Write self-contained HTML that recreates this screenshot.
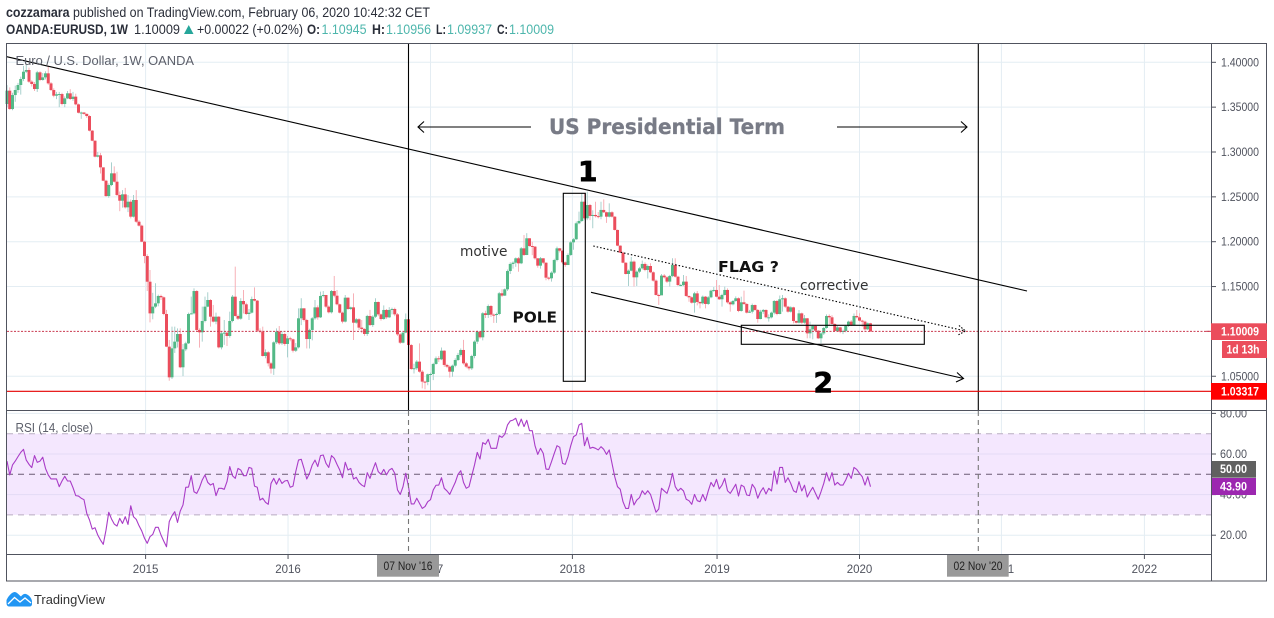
<!DOCTYPE html>
<html lang="en">
<head>
<meta charset="utf-8">
<title>EURUSD weekly chart</title>
<style>
html,body{margin:0;padding:0;background:#fff;width:1274px;height:618px;overflow:hidden}
svg{display:block}
text{font-family:"Liberation Sans",sans-serif}
.dv{font-family:"DejaVu Sans","Liberation Sans",sans-serif}
</style>
</head>
<body>
<svg id="chart" xmlns="http://www.w3.org/2000/svg" width="1274" height="618" viewBox="0 0 1274 618">
  <defs>
    <clipPath id="rsi-axis-clip"><rect x="1212" y="411" width="55" height="143"/></clipPath>
    <clipPath id="time-axis-clip"><rect x="7" y="555" width="1204" height="26"/></clipPath>
  </defs>
  <rect x="0" y="0" width="1274" height="618" fill="#ffffff"/>

  <g id="header" font-size="13.500" fill="#2a2e39">
    <text x="6" y="17" textLength="424" lengthAdjust="spacingAndGlyphs"><tspan font-weight="bold">cozzamara</tspan> published on TradingView.com, February 06, 2020 10:42:32 CET</text>
    <text x="6" y="34" font-weight="bold" textLength="122" lengthAdjust="spacingAndGlyphs">OANDA:EURUSD, 1W</text>
    <text x="134" y="34" textLength="46" lengthAdjust="spacingAndGlyphs">1.10009</text>
    <polygon points="184,34 193.500,34 188.750,25" fill="#26a69a"/>
    <text x="197" y="34" textLength="106" lengthAdjust="spacingAndGlyphs">+0.00022 (+0.02%)</text>
    <text x="307" y="34" font-weight="bold" textLength="13" lengthAdjust="spacingAndGlyphs">O:</text>
    <text x="321.500" y="34" fill="#4db6ac" textLength="45" lengthAdjust="spacingAndGlyphs">1.10945</text>
    <text x="372" y="34" font-weight="bold" textLength="13" lengthAdjust="spacingAndGlyphs">H:</text>
    <text x="386" y="34" fill="#4db6ac" textLength="45" lengthAdjust="spacingAndGlyphs">1.10956</text>
    <text x="436" y="34" font-weight="bold" textLength="10" lengthAdjust="spacingAndGlyphs">L:</text>
    <text x="447" y="34" fill="#4db6ac" textLength="45" lengthAdjust="spacingAndGlyphs">1.09937</text>
    <text x="497" y="34" font-weight="bold" textLength="11" lengthAdjust="spacingAndGlyphs">C:</text>
    <text x="509" y="34" fill="#4db6ac" textLength="45" lengthAdjust="spacingAndGlyphs">1.10009</text>
  </g>

  <g id="grid"></g>
  <g id="rsi-band"></g>
  <g id="candles"></g>
  <g id="rsi-series"></g>

  <g id="drawings" fill="none" stroke="#000" stroke-width="1.100">
    <line x1="408.500" y1="43" x2="408.500" y2="410" stroke-width="1.100"/>
    <line x1="978.300" y1="43" x2="978.300" y2="410" stroke-width="1.100"/>
    <line x1="408.500" y1="411" x2="408.500" y2="555" stroke="#777" stroke-dasharray="5 4"/>
    <line x1="978.300" y1="411" x2="978.300" y2="555" stroke="#777" stroke-dasharray="5 4"/>
    <line x1="7" y1="391.300" x2="1211" y2="391.300" stroke="#e40000"/>
    <line x1="6.700" y1="56.700" x2="1027" y2="291"/>
    <line x1="591" y1="292.300" x2="963.500" y2="378.500"/>
    <polyline points="957,372.500 963.500,378.500 956,382"/>
    <line x1="593.300" y1="246" x2="965.500" y2="331" stroke-dasharray="1.500 2"/>
    <polyline points="959,325.500 965.500,331 958,335" stroke-dasharray="1.500 1.500"/>
    <rect x="563.300" y="193.300" width="22" height="188"/>
    <rect x="741.300" y="325.300" width="183" height="19"/>
    <line x1="418" y1="127" x2="531" y2="127"/>
    <polyline points="424,121.500 418,127 424,132.500"/>
    <line x1="837" y1="127" x2="967" y2="127"/>
    <polyline points="961,121.500 967,127 961,132.500"/>
  </g>

  <g id="annotations">
    <text class="dv" x="549" y="134" font-size="21" font-weight="bold" fill="#787b86" stroke="#787b86" stroke-width="0.300" textLength="236" lengthAdjust="spacingAndGlyphs">US Presidential Term</text>
    <text class="dv" x="578" y="181" font-size="28" font-weight="bold" fill="#000" stroke="#000" stroke-width="0.800">1</text>
    <text class="dv" x="813.500" y="392" font-size="28" font-weight="bold" fill="#000" stroke="#000" stroke-width="0.800">2</text>
    <text class="dv" x="460" y="256" font-size="14" fill="#333" textLength="47.500" lengthAdjust="spacingAndGlyphs">motive</text>
    <text class="dv" x="512.500" y="322.700" font-size="15" font-weight="bold" fill="#111" textLength="44.500" lengthAdjust="spacingAndGlyphs">POLE</text>
    <text class="dv" x="718" y="272" font-size="15" font-weight="bold" fill="#111" textLength="61" lengthAdjust="spacingAndGlyphs">FLAG ?</text>
    <text class="dv" x="800" y="290" font-size="14" fill="#333" textLength="68.500" lengthAdjust="spacingAndGlyphs">corrective</text>
    <text x="15.500" y="65" font-size="13" fill="#5d606b" textLength="178.500" lengthAdjust="spacingAndGlyphs">Euro / U.S. Dollar, 1W, OANDA</text>
    <text x="15.500" y="432" font-size="12.500" fill="#5d606b" textLength="77.500" lengthAdjust="spacingAndGlyphs">RSI (14, close)</text>
  </g>

  <g id="price-axis"></g>
  <g id="rsi-axis" clip-path="url(#rsi-axis-clip)"></g>
  <g id="time-axis" clip-path="url(#time-axis-clip)"></g>

  <g id="frame" stroke="#50535e" stroke-width="1" fill="none">
    <rect x="6.500" y="43.500" width="1260" height="537.500"/>
    <line x1="1211.500" y1="43" x2="1211.500" y2="581"/>
    <line x1="6" y1="410.500" x2="1267" y2="410.500"/>
    <line x1="6" y1="554.500" x2="1211" y2="554.500"/>
  </g>

  <g id="time-badges">
    <rect x="377" y="555" width="62" height="21.700" fill="#999999"/>
    <text x="383.500" y="570" font-size="11.500" fill="#222" textLength="49" lengthAdjust="spacingAndGlyphs">07 Nov '16</text>
    <rect x="947" y="555" width="61.700" height="21.700" fill="#999999"/>
    <text x="953.500" y="570" font-size="11.500" fill="#222" textLength="49" lengthAdjust="spacingAndGlyphs">02 Nov '20</text>
  </g>

  <g id="value-badges" font-size="11.500" font-weight="bold" fill="#fff">
    <rect x="1211" y="323.300" width="56" height="16.700" fill="#eb4d5c"/>
    <text x="1221" y="335.500" textLength="38" lengthAdjust="spacingAndGlyphs">1.10009</text>
    <rect x="1222" y="341" width="45" height="17" fill="#eb4d5c"/>
    <text x="1226.500" y="353.500" textLength="33" lengthAdjust="spacingAndGlyphs">1d 13h</text>
    <rect x="1211" y="383" width="56" height="16.700" fill="#ff0000"/>
    <text x="1221" y="395.500" textLength="38" lengthAdjust="spacingAndGlyphs">1.03317</text>
    <rect x="1212" y="461" width="44" height="16.700" fill="#606060"/>
    <text x="1220" y="473" textLength="27" lengthAdjust="spacingAndGlyphs">50.00</text>
    <rect x="1212" y="478" width="44" height="17" fill="#9c27b0"/>
    <text x="1220" y="490.500" textLength="27" lengthAdjust="spacingAndGlyphs">43.90</text>
  </g>

  <g id="logo">
    <path d="M6.500 603 L6.500 600 C8 597 11 592.500 14.500 592 C17 592 19 595 21 596.500 C22.500 594.500 24 593.500 26 594 C29 595 31.500 598 32 601 L32 604 C32 605.500 31 606.500 29.500 606.500 L9 606.500 C7.500 606.500 6.500 605 6.500 603 Z" fill="#2196f3"/>
    <path d="M8 604 L14.500 597.500 L20 602 L25 598 L31 603" fill="none" stroke="#fff" stroke-width="1.300"/>
    <text x="34" y="604" font-size="13" fill="#333" textLength="71" lengthAdjust="spacingAndGlyphs">TradingView</text>
  </g>
</svg>

<script>
var firstOpen = 1.3535;
var closes = [
1.3684,1.3479,1.3635,1.3691,1.3747,1.3814,1.3895,1.3914,1.3784,1.3758,
1.3702,1.3888,1.3803,1.3832,1.3877,1.3765,1.3691,1.3628,1.3643,1.3646,
1.3535,1.3598,1.3654,1.3591,1.3617,1.3531,1.3438,1.3440,1.3425,1.3401,
1.3238,1.3126,1.2948,1.2963,1.2829,1.2680,1.2509,1.2632,1.2762,1.2669,
1.2521,1.2457,1.2528,1.2383,1.2446,1.2279,1.2465,1.2223,1.2179,1.2000,
1.1840,1.1554,1.1201,1.1276,1.1313,1.1395,1.1380,1.1194,1.0830,1.0488,
1.0811,1.0886,1.0971,1.0600,1.0800,1.0867,1.1194,1.1201,1.1450,1.1016,
1.0990,1.1116,1.1276,1.1350,1.1164,1.1109,1.1164,1.0822,1.0978,1.0986,
1.0949,1.1116,1.1387,1.1172,1.1142,1.1339,1.1302,1.1194,1.1209,1.1361,
1.1343,1.1008,1.0997,1.0726,1.0767,1.0644,1.0585,1.0878,1.0997,1.0867,
1.0971,1.0860,1.0923,1.0912,1.0785,1.0822,1.1146,1.1257,1.1127,1.0915,
1.1016,1.1146,1.1268,1.1157,1.1395,1.1406,1.1276,1.1213,1.1450,1.1398,
1.1302,1.1209,1.1109,1.1376,1.1250,1.1268,1.1097,1.1135,1.1042,1.1027,
1.0971,1.1172,1.1071,1.1164,1.1328,1.1190,1.1138,1.1239,1.1157,1.1239,
1.1250,1.1190,1.0967,1.0874,1.0986,1.1135,1.0848,1.0581,1.0589,1.0663,
1.0551,1.0440,1.0436,1.0522,1.0525,1.0637,1.0700,1.0689,1.0785,1.0626,
1.0607,1.0551,1.0618,1.0681,1.0737,1.0793,1.0644,1.0607,1.0588,1.0726,
1.0886,1.0997,1.0934,1.1202,1.1183,1.1283,1.1187,1.1183,1.1194,1.1425,
1.1399,1.1469,1.1673,1.1752,1.1766,1.1815,1.1759,1.1926,1.1852,1.2038,
1.1952,1.1945,1.1815,1.1733,1.1815,1.1766,1.1599,1.1592,1.1655,1.1796,
1.1926,1.1900,1.1770,1.1740,1.1852,1.1993,1.2027,1.2205,1.2231,1.2446,
1.2261,1.2409,1.2287,1.2298,1.2285,1.2279,1.2354,1.2328,1.2279,1.2328,
1.2279,1.2131,1.1956,1.1878,1.1766,1.1640,1.1677,1.1778,1.1603,1.1666,
1.1703,1.1752,1.1685,1.1729,1.1659,1.1566,1.1406,1.1402,1.1622,1.1603,
1.1555,1.1618,1.1740,1.1610,1.1517,1.1517,1.1555,1.1395,1.1380,1.1320,
1.1424,1.1328,1.1313,1.1387,1.1306,1.1380,1.1454,1.1462,1.1387,1.1358,
1.1406,1.1462,1.1324,1.1302,1.1339,1.1369,1.1228,1.1324,1.1306,1.1209,
1.1220,1.1294,1.1239,1.1138,1.1220,1.1239,1.1157,1.1157,1.1209,1.1339,
1.1194,1.1358,1.1369,1.1276,1.1220,1.1268,1.1116,1.1097,1.1201,1.1097,
1.1146,1.0978,1.1023,1.1060,1.1008,1.0923,1.0978,1.1038,1.1172,1.1157,
1.1083,1.1005,1.1045,1.0997,1.1005,1.1060,1.1109,1.1071,1.1172,1.1157,
1.1120,1.1109,1.1023,1.1090,1.10009];
var highs = [
1.3745,1.3720,1.3660,1.3740,1.3770,1.3840,1.3960,1.3970,1.3940,1.3800,
1.3780,1.3905,1.3900,1.3880,1.3900,1.3960,1.3780,1.3710,1.3670,1.3670,
1.3660,1.3620,1.3680,1.3700,1.3670,1.3650,1.3540,1.3450,1.3445,1.3430,
1.3410,1.3245,1.3130,1.3000,1.2990,1.2760,1.2690,1.2650,1.2885,1.2840,
1.2780,1.2560,1.2575,1.2600,1.2520,1.2470,1.2520,1.2575,1.2240,1.2190,
1.2010,1.1860,1.1684,1.1430,1.1537,1.1410,1.1410,1.1390,1.1240,1.0905,
1.1053,1.1053,1.1034,1.1034,1.0860,1.0885,1.1210,1.1388,1.1480,1.1460,
1.1034,1.1276,1.1387,1.1436,1.1360,1.1295,1.1210,1.1170,1.1000,1.1127,
1.1000,1.1220,1.1406,1.1722,1.1190,1.1370,1.1462,1.1320,1.1250,1.1388,
1.1491,1.1350,1.1034,1.1053,1.0800,1.0780,1.0660,1.0890,1.1034,1.1060,
1.1000,1.0985,1.0950,1.0940,1.0920,1.0870,1.1257,1.1370,1.1260,1.1140,
1.1030,1.1160,1.1350,1.1290,1.1443,1.1450,1.1406,1.1290,1.1462,1.1618,
1.1462,1.1310,1.1220,1.1406,1.1380,1.1276,1.1424,1.1150,1.1146,1.1127,
1.1035,1.1185,1.1240,1.1180,1.1370,1.1333,1.1200,1.1290,1.1250,1.1270,
1.1265,1.1265,1.1205,1.0980,1.1000,1.1200,1.1306,1.0860,1.0640,1.0680,
1.0867,1.0570,1.0450,1.0530,1.0540,1.0650,1.0720,1.0725,1.0820,1.0790,
1.0640,1.0620,1.0630,1.0700,1.0760,1.0810,1.0905,1.0660,1.0620,1.0740,
1.0900,1.1010,1.1005,1.1215,1.1230,1.1300,1.1295,1.1200,1.1210,1.1440,
1.1470,1.1480,1.1690,1.1770,1.1780,1.1825,1.1830,1.1940,1.2075,1.2095,
1.2038,1.2000,1.1950,1.1815,1.1830,1.1815,1.1770,1.1610,1.1670,1.1810,
1.1945,1.1930,1.1905,1.1780,1.1870,1.2010,1.2040,1.2225,1.2335,1.2540,
1.2540,1.2558,1.2420,1.2350,1.2446,1.2330,1.2446,1.2472,1.2335,1.2428,
1.2340,1.2285,1.2135,1.1960,1.1890,1.1770,1.1690,1.1830,1.1790,1.1680,
1.1720,1.1790,1.1770,1.1745,1.1760,1.1670,1.1580,1.1420,1.1640,1.1640,
1.1615,1.1630,1.1815,1.1815,1.1620,1.1530,1.1629,1.1618,1.1400,1.1390,
1.1440,1.1450,1.1335,1.1400,1.1395,1.1395,1.1465,1.1495,1.1573,1.1517,
1.1420,1.1499,1.1480,1.1335,1.1350,1.1390,1.1380,1.1387,1.1454,1.1315,
1.1240,1.1310,1.1300,1.1250,1.1240,1.1250,1.1245,1.1190,1.1220,1.1350,
1.1350,1.1400,1.1406,1.1380,1.1285,1.1280,1.1275,1.1120,1.1239,1.1210,
1.1183,1.1150,1.1109,1.1075,1.1065,1.1015,1.0990,1.1050,1.1190,1.1190,
1.1180,1.1090,1.1060,1.1050,1.1020,1.1070,1.1120,1.1125,1.1200,1.1239,
1.1202,1.1130,1.1120,1.1100,1.10956];
var lows = [
1.3500,1.3470,1.3465,1.3560,1.3660,1.3640,1.3790,1.3880,1.3770,1.3730,
1.3680,1.3670,1.3790,1.3795,1.3810,1.3750,1.3680,1.3610,1.3590,1.3500,
1.3520,1.3500,1.3590,1.3580,1.3570,1.3520,1.3430,1.3370,1.3415,1.3380,
1.3230,1.3120,1.2940,1.2940,1.2760,1.2675,1.2500,1.2490,1.2620,1.2660,
1.2510,1.2340,1.2380,1.2370,1.2330,1.2260,1.2270,1.2210,1.2170,1.1995,
1.1760,1.1450,1.1100,1.1135,1.1260,1.1280,1.1350,1.1180,1.0825,1.0450,
1.0470,1.0760,1.0820,1.0590,1.0502,1.0780,1.0860,1.1190,1.1190,1.1000,
1.0819,1.0886,1.1100,1.1270,1.1053,1.1100,1.1080,1.0810,1.0800,1.0850,
1.0837,1.0930,1.1100,1.1165,1.1127,1.1130,1.1200,1.1183,1.1127,1.1200,
1.1335,1.0997,1.0980,1.0720,1.0700,1.0610,1.0530,1.0515,1.0860,1.0850,
1.0850,1.0840,1.0710,1.0890,1.0765,1.0770,1.0810,1.1070,1.1110,1.0810,
1.0810,1.0900,1.1130,1.1130,1.1150,1.1380,1.1260,1.1200,1.1200,1.1380,
1.1290,1.1200,1.1090,1.1100,1.1240,1.1240,1.0904,1.1085,1.1015,1.0980,
1.0950,1.0950,1.1060,1.1050,1.1150,1.1170,1.1120,1.1130,1.1140,1.1150,
1.1190,1.1170,1.0950,1.0860,1.0866,1.0980,1.0830,1.0570,1.0530,1.0570,
1.0540,1.0365,1.0355,1.0400,1.0345,1.0457,1.0630,1.0660,1.0680,1.0605,
1.0590,1.0485,1.0495,1.0600,1.0670,1.0720,1.0630,1.0590,1.0565,1.0570,
1.0700,1.0860,1.0920,1.0900,1.1150,1.1150,1.1160,1.1095,1.1095,1.1180,
1.1385,1.1395,1.1450,1.1640,1.1700,1.1720,1.1665,1.1750,1.1840,1.1850,
1.1945,1.1850,1.1800,1.1710,1.1700,1.1750,1.1570,1.1570,1.1555,1.1640,
1.1780,1.1880,1.1750,1.1720,1.1740,1.1840,1.1910,1.2020,1.2195,1.2220,
1.2245,1.2240,1.2240,1.2150,1.2270,1.2260,1.2250,1.2320,1.2210,1.2270,
1.2270,1.2125,1.1950,1.1875,1.1760,1.1635,1.1506,1.1670,1.1500,1.1506,
1.1650,1.1690,1.1670,1.1590,1.1650,1.1555,1.1400,1.1295,1.1425,1.1590,
1.1540,1.1500,1.1605,1.1600,1.1505,1.1505,1.1505,1.1385,1.1330,1.1310,
1.1209,1.1290,1.1257,1.1300,1.1257,1.1295,1.1370,1.1440,1.1380,1.1350,
1.1276,1.1400,1.1310,1.1220,1.1290,1.1330,1.1215,1.1220,1.1295,1.1200,
1.1205,1.1200,1.1230,1.1097,1.1135,1.1195,1.1145,1.1109,1.1145,1.1190,
1.1180,1.1190,1.1220,1.1260,1.1209,1.1210,1.1090,1.1090,1.1090,1.1085,
1.1085,1.0923,1.0923,1.0912,1.0990,1.0915,1.0867,1.0960,1.1030,1.1070,
1.1075,1.0995,1.0995,1.0980,1.0970,1.0990,1.1050,1.1060,1.1065,1.1145,
1.1110,1.1050,1.1010,1.1015,1.09937];
var rsiValues = [
56.5,49.7,54.6,56.5,58.7,60.8,62.3,57.0,54.9,53.3,59.2,55.9,56.5,58.4,52.9,49.7,47.7,47.7,47.7,43.9,
46.7,49.0,46.7,46.7,43.4,39.5,39.3,38.2,37.5,30.8,27.5,23.0,23.7,20.1,17.6,15.5,22.5,31.3,28.0,25.5,
24.5,28.3,25.8,29.1,25.3,34.5,29.1,27.8,24.7,22.1,18.5,16.0,19.3,20.4,23.9,23.9,20.1,17.1,14.3,26.7,
29.6,31.6,26.3,31.9,34.9,43.6,43.7,49.3,41.4,40.6,43.4,47.2,49.7,46.0,44.7,45.5,39.5,43.1,43.1,42.6,
46.4,53.8,49.3,48.0,52.9,52.1,49.3,49.3,53.4,52.9,44.2,43.6,37.3,38.2,36.2,35.2,45.5,48.0,45.1,48.0,
45.5,46.7,47.0,43.6,44.2,51.3,57.0,57.4,52.9,47.7,50.5,54.6,57.0,53.8,59.2,
59.5,55.4,53.4,59.2,57.9,54.9,52.1,48.3,55.9,52.1,52.9,47.7,48.5,46.0,44.7,43.9,50.8,48.0,52.1,55.7,
51.3,50.0,52.4,49.7,52.1,52.9,50.5,42.3,40.1,43.9,50.5,43.9,35.4,35.4,38.2,35.7,33.2,34.1,36.5,37.5,
42.3,44.6,44.7,48.3,43.1,41.8,40.1,43.1,46.0,50.0,51.8,46.0,43.1,43.9,49.3,54.6,60.8,57.5,65.6,64.8,
67.2,62.8,62.8,62.8,69.0,68.2,69.7,74.3,76.3,76.7,77.6,73.8,77.2,73.5,76.6,71.5,71.5,64.1,59.8,62.8,
60.3,52.6,52.4,56.2,60.3,64.1,63.3,55.4,54.9,58.7,64.1,68.5,69.4,74.3,75.1,64.1,68.2,62.8,63.3,62.8,
62.0,63.6,62.3,59.8,62.0,55.4,48.8,43.9,42.6,36.5,33.2,33.2,40.1,34.9,37.3,38.5,
41.9,40.1,41.9,40.1,35.7,31.3,32.9,43.1,41.8,40.6,44.7,50.5,43.9,41.8,43.1,41.8,37.7,37.0,35.2,40.1,
37.0,36.5,40.1,37.0,41.8,46.0,43.9,47.5,42.8,44.7,48.0,41.9,40.6,42.8,45.1,39.3,44.7,43.9,39.8,39.5,
45.1,43.1,38.2,41.4,43.4,40.3,43.1,41.8,51.6,45.2,53.4,53.4,46.0,48.3,45.5,41.9,41.1,46.4,41.8,44.6,
38.8,41.4,43.6,40.6,37.7,41.4,45.5,50.8,46.7,50.8,44.7,46.0,44.7,44.7,47.2,50.5,48.0,53.4,52.4,50.5,
48.8,44.7,48.8,43.9];
var priceTicks = ["1.40000","1.35000","1.30000","1.25000","1.20000","1.15000","1.05000"];
var rsiTicks = ["80.00","60.00","40.00","20.00"];
var rsiBandLimits = [70, 30];
var rsiMidLevel = 50;
var yearLabels = ["2015","2016","2017","2018","2019","2020","2021","2022"];
var yearBars = [50.4,102.2,154,205.6,258.2,310,361.6,413.6];
var lastPrice = 1.10009;

var NS = 'http://www.w3.org/2000/svg';
function xBar(i){ return 7 + 2.75 * i; }
function yPrice(p){ return 62.3 + (1.40 - p) * 897; }
function yRsi(v){ return 474.3 + (50 - v) * 2.03; }
function make(tag, props, parent){
  var el = document.createElementNS(NS, tag);
  for (var k in props) el.setAttribute(k, props[k]);
  parent.appendChild(el);
  return el;
}

var grid = document.getElementById('grid');
var bandGroup = document.getElementById('rsi-band');
var candleGroup = document.getElementById('candles');
var rsiGroup = document.getElementById('rsi-series');
var priceAxis = document.getElementById('price-axis');
var rsiAxis = document.getElementById('rsi-axis');
var timeAxis = document.getElementById('time-axis');

yearBars.forEach(function(b, k){
  var x = xBar(b);
  var v1 = make('line', {x1:x, y1:44, x2:x, y2:410, stroke:'#e4edf3', 'stroke-width':1}, grid);
  
  
  var v2 = make('line', {x1:x, y1:411, x2:x, y2:554, stroke:'#e4edf3', 'stroke-width':1}, grid);
  
  
  var t = make('line', {x1:x, y1:555, x2:x, y2:559, stroke:'#50535e', 'stroke-width':1}, timeAxis);
  
  
  var lab = make('text', {x:x, y:573, 'font-size':11.5, fill:'#50535e', 'text-anchor':'middle'}, timeAxis);
  
  
  lab.textContent = yearLabels[k];
});

priceTicks.forEach(function(s){
  var y = yPrice(parseFloat(s));
  var g = make('line', {x1:7, y1:y, x2:1211, y2:y, stroke:'#e4edf3', 'stroke-width':1}, grid);
  
  
  var t = make('line', {x1:1212, y1:y, x2:1216, y2:y, stroke:'#50535e', 'stroke-width':1}, priceAxis);
  
  
  var lab = make('text', {x:1221, y:y + 4, 'font-size':11.5, fill:'#50535e', textLength:38, lengthAdjust:'spacingAndGlyphs'}, priceAxis);
  
  
  lab.textContent = s;
});

var bandTop = yRsi(rsiBandLimits[0]);
var bandBottom = yRsi(rsiBandLimits[1]);
var band = make('rect', {x:7, y:bandTop, width:1204, height:bandBottom - bandTop, fill:'#f4e7fe'}, bandGroup);



rsiTicks.forEach(function(s){
  var y = yRsi(parseFloat(s));
  var inBand = parseFloat(s) < rsiBandLimits[0] && parseFloat(s) > rsiBandLimits[1];
  var g = make('line', {x1:7, y1:y, x2:1211, y2:y, stroke: inBand ? '#e3dbf5' : '#e4edf3', 'stroke-width':1}, bandGroup);
  
  
  var t = make('line', {x1:1212, y1:y, x2:1216, y2:y, stroke:'#50535e', 'stroke-width':1}, rsiAxis);
  
  
  var lab = make('text', {x:1220, y:y + 4, 'font-size':11.5, fill:'#50535e', textLength:27, lengthAdjust:'spacingAndGlyphs'}, rsiAxis);
  
  
  lab.textContent = s;
});

rsiBandLimits.forEach(function(v){
  var l = make('line', {x1:7, y1:yRsi(v), x2:1211, y2:yRsi(v), stroke:'#b9adc2', 'stroke-width':1, 'stroke-dasharray':'6 5'}, bandGroup);
  
  
});
var mid = make('line', {x1:7, y1:yRsi(rsiMidLevel), x2:1211, y2:yRsi(rsiMidLevel), stroke:'#6a5a73', 'stroke-width':1, 'stroke-dasharray':'6 5'}, bandGroup);



closes.forEach(function(c, i){
  var o = i === 0 ? firstOpen : closes[i - 1];
  var up = c >= o;
  var x = xBar(i);
  var wick = make('line', {x1:x, y1:yPrice(highs[i]), x2:x, y2:yPrice(lows[i]), stroke: up ? '#a8d0cd' : '#f7b0b7', 'stroke-width':1}, candleGroup);
  
  
  var top = yPrice(Math.max(o, c));
  var h = Math.max(1, yPrice(Math.min(o, c)) - top);
  var body = make('rect', {x:x - 1.5, y:top, width:3, height:h, fill: up ? '#53b987' : '#eb4d5c'}, candleGroup);
  
  
});

var priceLine = make('line', {x1:7, y1:yPrice(lastPrice), x2:1211, y2:yPrice(lastPrice), stroke:'#c9394f', 'stroke-width':1, 'stroke-dasharray':'2 1.5'}, candleGroup);


var priceTick = make('line', {x1:1206, y1:yPrice(lastPrice), x2:1211, y2:yPrice(lastPrice), stroke:'#c9394f', 'stroke-width':1}, candleGroup);



var pts = rsiValues.map(function(v, i){ return xBar(i).toFixed(2) + ',' + yRsi(v).toFixed(2); }).join(' ');
var rsiLine = make('polyline', {points:pts, fill:'none', stroke:'#a93cc7', 'stroke-width':1.100, 'stroke-linejoin':'round'}, rsiGroup);


</script>
</body>
</html>
